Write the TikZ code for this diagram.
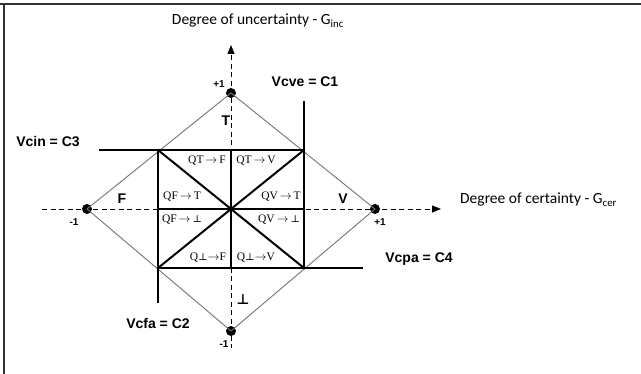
\documentclass[tikz,border=0pt]{standalone}
\usepackage{fontspec}
\setmainfont{Liberation Sans}
\newfontfamily\calib{Carlito}
\newfontfamily\tms{Liberation Serif}
\newfontfamily\dvs{DejaVu Serif}
\newfontfamily\dvsans{DejaVu Sans}
\usetikzlibrary{arrows.meta,calc}
\newcommand{\bt}{{\dvs\fontsize{10}{10}\selectfont ⊥}}
\newcommand{\ra}{\,$\rightarrow$\,}
\begin{document}
\begin{tikzpicture}[x=1pt,y=-1pt,
  dot/.style={circle,fill=black,inner sep=0pt,minimum size=10pt},
  diam/.style={draw=gray!90!black,line width=0.9pt},
  thk/.style={line width=2pt,line cap=rect},
  axis/.style={dashed,dash pattern=on 5pt off 3.5pt,line width=0.9pt},
  tip/.style={-{Triangle[length=9pt,width=7pt]},line width=0.9pt},
  blab/.style={font=\bfseries\fontsize{14}{14}\selectfont,inner sep=0pt},
  qlab/.style={font=\tms\fontsize{11.5}{11.5}\selectfont,inner sep=0pt},
  alab/.style={font=\calib\fontsize{15.5}{15.5}\selectfont,inner sep=0pt},
  nlab/.style={font=\bfseries\fontsize{10}{10}\selectfont,inner sep=0pt}]
\useasboundingbox (0,0) rectangle (641,374);
% frame
\draw[line width=1.8pt,gray!40!black] (0,4) -- (641,4);
\draw[line width=1.8pt,gray!40!black] (4,4) -- (4,374);
% coordinates
\coordinate (C) at (231,209);
\coordinate (tl) at (158,150);
\coordinate (tr) at (304,150);
\coordinate (bl) at (158,268);
\coordinate (br) at (304,268);
\coordinate (axL) at (42,209);
\coordinate (axR) at (441,209);
\coordinate (axR0) at (439,209);
\coordinate (axT) at (231,45);
\coordinate (axT0) at (231,47);
\coordinate (axB) at (231,348);
\coordinate (cinE) at (100,150);
\coordinate (cveE) at (304,102);
\coordinate (cpaE) at (362,268);
\coordinate (cfaE) at (158,302);
% axes
\draw[axis] (axL) -- (axR0);
\draw[tip] (axR0) -- (axR);
\draw[axis] (axT0) -- (axB);
\draw[tip] (axT0) -- (axT);
% dots
\node[dot] (L) at (87,209) {};
\node[dot] (R) at (375,209) {};
\node[dot] (T) at (231,93) {};
\node[dot] (B) at (231,331) {};
% diamond
\draw[diam] (L.center) -- (T.center) -- (R.center) -- (B.center) -- cycle;
% thick lines
\draw[thk] (cinE) -- (tr);
\draw[thk] (cveE) -- (br);
\draw[thk] (bl) -- (cpaE);
\draw[thk] (tl) -- (cfaE);
\draw[thk] (231,150) -- (231,268);
\draw[thk] (tl) -- (br);
\draw[thk] (bl) -- (tr);
\draw[thk] (tl) -- (bl);
\draw[thk] (158,209) -- (304,209);
% bold labels
\node[blab] (c1) at (305,82) {Vcve = C1};
\node[blab] (c3) at (48,142) {Vcin = C3};
\node[blab] (c4) at (419,259) {Vcpa = C4};
\node[blab] (c2) at (158,323) {Vcfa = C2};
\node[blab] (lF) at (122,199) {F};
\node[blab] (lV) at (343,199) {V};
\node[blab] (lT) at (226,121) {T};
\node[inner sep=0pt,font=\dvsans\bfseries\fontsize{14}{14}\selectfont] (lB) at (243,300) {⊥};
\node[nlab] (p1t) at (219,84) {+1};
\node[nlab] (m1b) at (224,344) {-1};
\node[nlab] (m1l) at (74,222) {-1};
\node[nlab] (p1r) at (380,222) {+1};
% interior labels
\node[qlab] (q1) at (207,161) {QT\ra F};
\node[qlab] (q2) at (256,161) {QT\ra V};
\node[qlab] (q3) at (182,197) {QF\ra T};
\node[qlab] (q4) at (281,197) {QV\ra T};
\node[qlab] (q5) at (182,220) {QF\ra\bt};
\node[qlab] (q6) at (279,220) {QV\ra\bt};
\node[qlab] (q7) at (208,258) {Q\bt$\rightarrow$F};
\node[qlab] (q8) at (256,258) {Q\bt$\rightarrow$V};
% axis labels
\node[alab] (gi) at (258,21) {Degree of uncertainty - G\textsubscript{inc}};
\node[alab,anchor=west] (gc) at (460,200) {Degree of certainty - G\textsubscript{cer}};
\end{tikzpicture}
\end{document}
